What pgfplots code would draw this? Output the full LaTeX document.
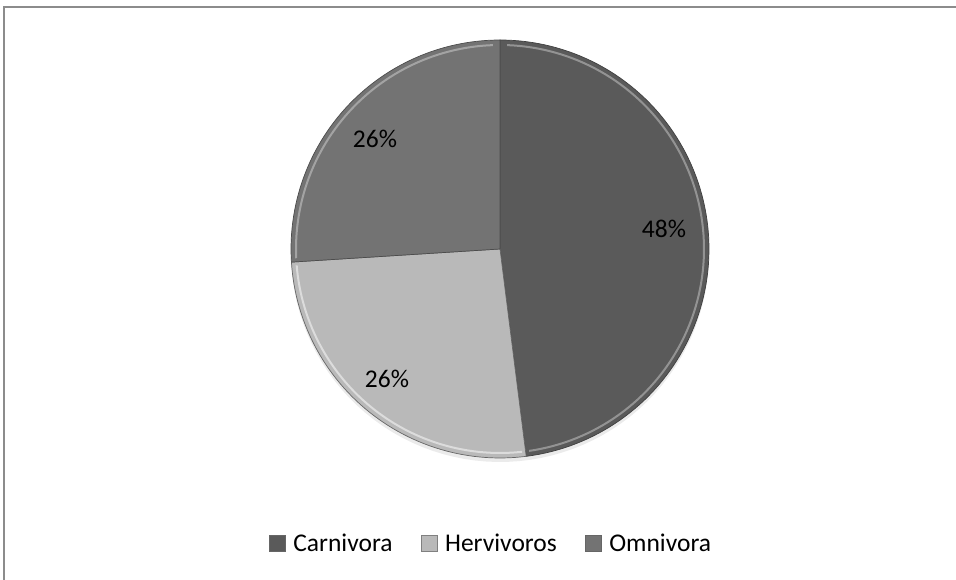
\documentclass[border=0pt]{standalone}
\usepackage{pgfplots}
\pgfplotsset{compat=1.18}
\usepackage{fontspec}
\setmainfont{Carlito}
\definecolor{carn}{HTML}{5A5A5A}
\definecolor{herv}{HTML}{B9B9B9}
\definecolor{omni}{HTML}{737373}
\definecolor{frame}{HTML}{8C8C8C}
% data (percent)
\def\pCarn{48}
\def\pHerv{26}
\def\pOmni{26}
\pgfmathsetmacro{\aA}{90}
\pgfmathsetmacro{\aB}{90-3.6*\pCarn}
\pgfmathsetmacro{\aC}{\aB-3.6*\pHerv}
\pgfmathsetmacro{\aD}{\aC-3.6*\pOmni}
\def\cx{500}
\def\cy{-249}
\def\R{209}
\begin{document}
\begin{tikzpicture}
\begin{axis}[
  at={(0,0)}, anchor=south west,
  scale only axis, width=956pt, height=580pt,
  xmin=0, xmax=956, ymin=-580, ymax=0,
  hide axis, clip=false,
  legend style={at={(axis cs:491,-543)}, anchor=center, draw=none, fill=none,
    legend columns=3, font=\fontsize{25.5}{28}\selectfont,
    /tikz/every even column/.append style={column sep=26pt},
    /tikz/every odd column/.append style={column sep=6pt}},
  legend cell align=left,
  legend image code/.code={\filldraw[#1] (0pt,-8pt) rectangle (16pt,8pt);},
]
% frame
\addplot[draw=frame, line width=1.3pt, forget plot] coordinates {(4,-580) (4,-7) (956,-7)};
% shadow
\addplot[fill=black!8, draw=none, forget plot, domain=0:360, samples=120]
  ({\cx+\R*cos(x)},{\cy-4+\R*sin(x)}) -- cycle;
% sectors
\addplot[fill=carn, draw=black!75, line width=0.7pt, domain=\aA:\aB, samples=100, forget plot]
  ({\cx+\R*cos(x)},{\cy+\R*sin(x)}) -- (axis cs:\cx,\cy) -- cycle;
\addplot[fill=herv, draw=black!60, line width=0.7pt, domain=\aB:\aC, samples=60, forget plot]
  ({\cx+\R*cos(x)},{\cy+\R*sin(x)}) -- (axis cs:\cx,\cy) -- cycle;
\addplot[fill=omni, draw=black!70, line width=0.7pt, domain=\aC:\aD, samples=60, forget plot]
  ({\cx+\R*cos(x)},{\cy+\R*sin(x)}) -- (axis cs:\cx,\cy) -- cycle;
% bevel highlights
\addplot[draw=white, opacity=0.35, line width=2pt, forget plot, domain=\aA-2:\aB+1, samples=100]
  ({\cx+(\R-5)*cos(x)},{\cy+(\R-5)*sin(x)});
\addplot[draw=white, opacity=0.5, line width=2pt, forget plot, domain=\aB-1:\aC+1, samples=60]
  ({\cx+(\R-5)*cos(x)},{\cy+(\R-5)*sin(x)});
\addplot[draw=white, opacity=0.35, line width=2pt, forget plot, domain=\aC-1:\aD+2, samples=60]
  ({\cx+(\R-5)*cos(x)},{\cy+(\R-5)*sin(x)});
\addlegendimage{fill=carn, draw=black!60, line width=0.5pt}
\addlegendentry{Carnivora}
\addlegendimage{fill=herv, draw=black!50, line width=0.5pt}
\addlegendentry{Hervivoros}
\addlegendimage{fill=omni, draw=black!60, line width=0.5pt}
\addlegendentry{Omnivora}
% labels
\node[font=\fontsize{25.5}{28}\selectfont] at (axis cs:664,-229) {48\%};
\node[font=\fontsize{25.5}{28}\selectfont] at (axis cs:375,-139) {26\%};
\node[font=\fontsize{25.5}{28}\selectfont] at (axis cs:387,-379) {26\%};
\end{axis}
\pgfresetboundingbox
\useasboundingbox (0,0) rectangle (956pt,580pt);
\end{tikzpicture}
\end{document}
